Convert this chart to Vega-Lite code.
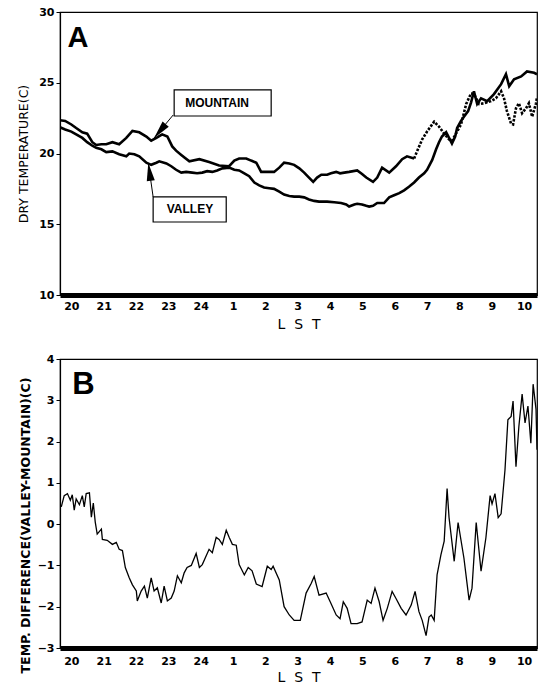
{
  "$schema": "https://vega.github.io/schema/vega-lite/v6.json",
  "padding": {"left": 17, "top": 5, "right": 0, "bottom": 0},
  "background": "white",
  "bounds": "flush",
  "spacing": 64,
  "config": {
    "view": {"stroke": "black", "strokeWidth": 1.2},
    "axis": {
      "grid": false,
      "domainColor": "black",
      "tickColor": "black",
      "labelColor": "black",
      "titleColor": "black",
      "labelFont": "DejaVu Sans",
      "labelFontWeight": "bold",
      "labelFontSize": 11,
      "titleFont": "DejaVu Sans"
    }
  },
  "datasets": {
    "mountain": [
      {"t": 19.65, "v": 22.35}, {"t": 19.81, "v": 22.3}, {"t": 20.0, "v": 22.05}, {"t": 20.15, "v": 21.8},
      {"t": 20.34, "v": 21.5}, {"t": 20.49, "v": 21.4}, {"t": 20.65, "v": 20.8}, {"t": 20.77, "v": 20.6},
      {"t": 20.93, "v": 20.65}, {"t": 21.08, "v": 20.65}, {"t": 21.27, "v": 20.8}, {"t": 21.48, "v": 20.65},
      {"t": 21.7, "v": 21.1}, {"t": 21.89, "v": 21.6}, {"t": 22.1, "v": 21.5}, {"t": 22.32, "v": 21.2},
      {"t": 22.47, "v": 20.9}, {"t": 22.63, "v": 21.1}, {"t": 22.81, "v": 21.35}, {"t": 22.97, "v": 21.2},
      {"t": 23.12, "v": 20.5}, {"t": 23.24, "v": 20.2}, {"t": 23.4, "v": 19.9}, {"t": 23.65, "v": 19.45},
      {"t": 23.96, "v": 19.6}, {"t": 24.26, "v": 19.4}, {"t": 24.57, "v": 19.15}, {"t": 24.88, "v": 19.1},
      {"t": 25.04, "v": 19.5}, {"t": 25.19, "v": 19.65}, {"t": 25.41, "v": 19.65}, {"t": 25.56, "v": 19.5},
      {"t": 25.72, "v": 19.35}, {"t": 25.87, "v": 18.7}, {"t": 26.06, "v": 18.7}, {"t": 26.27, "v": 18.7},
      {"t": 26.43, "v": 19.0}, {"t": 26.58, "v": 19.35}, {"t": 26.74, "v": 19.3}, {"t": 26.89, "v": 19.2},
      {"t": 27.05, "v": 18.95}, {"t": 27.2, "v": 18.65}, {"t": 27.35, "v": 18.3}, {"t": 27.48, "v": 18.0},
      {"t": 27.6, "v": 18.3}, {"t": 27.73, "v": 18.5}, {"t": 27.91, "v": 18.5}, {"t": 28.03, "v": 18.6},
      {"t": 28.19, "v": 18.7}, {"t": 28.31, "v": 18.6}, {"t": 28.44, "v": 18.65}, {"t": 28.59, "v": 18.7},
      {"t": 28.84, "v": 18.8}, {"t": 28.99, "v": 18.55}, {"t": 29.12, "v": 18.3}, {"t": 29.33, "v": 18.0},
      {"t": 29.46, "v": 18.3}, {"t": 29.61, "v": 19.0}, {"t": 29.83, "v": 18.65}, {"t": 30.04, "v": 19.1},
      {"t": 30.23, "v": 19.6}, {"t": 30.38, "v": 19.8}, {"t": 30.6, "v": 19.65}, {"t": 30.69, "v": 20.15},
      {"t": 30.85, "v": 21.0}, {"t": 31.0, "v": 21.55}, {"t": 31.22, "v": 22.25}, {"t": 31.37, "v": 21.9},
      {"t": 31.53, "v": 21.4}, {"t": 31.68, "v": 21.0}, {"t": 31.77, "v": 20.9}, {"t": 31.93, "v": 21.55},
      {"t": 32.05, "v": 22.05}, {"t": 32.21, "v": 23.5}, {"t": 32.36, "v": 24.25}, {"t": 32.45, "v": 24.2},
      {"t": 32.61, "v": 23.5}, {"t": 32.76, "v": 23.55}, {"t": 32.98, "v": 23.7}, {"t": 33.13, "v": 23.9},
      {"t": 33.29, "v": 24.4}, {"t": 33.38, "v": 23.9}, {"t": 33.47, "v": 23.0}, {"t": 33.6, "v": 22.1},
      {"t": 33.66, "v": 22.05}, {"t": 33.75, "v": 23.2}, {"t": 33.84, "v": 23.55}, {"t": 33.94, "v": 22.85},
      {"t": 34.06, "v": 23.2}, {"t": 34.15, "v": 23.55}, {"t": 34.25, "v": 22.6}, {"t": 34.37, "v": 23.55},
      {"t": 34.4, "v": 24.0}
    ],
    "valley": [
      {"t": 19.65, "v": 21.85}, {"t": 19.81, "v": 21.7}, {"t": 20.0, "v": 21.55}, {"t": 20.15, "v": 21.35},
      {"t": 20.34, "v": 21.1}, {"t": 20.49, "v": 20.8}, {"t": 20.65, "v": 20.55}, {"t": 20.77, "v": 20.4},
      {"t": 20.93, "v": 20.3}, {"t": 21.08, "v": 20.1}, {"t": 21.27, "v": 20.15}, {"t": 21.48, "v": 19.95},
      {"t": 21.7, "v": 19.8}, {"t": 21.79, "v": 20.0}, {"t": 21.95, "v": 19.95}, {"t": 22.1, "v": 19.8},
      {"t": 22.32, "v": 19.35}, {"t": 22.47, "v": 19.2}, {"t": 22.63, "v": 19.35}, {"t": 22.72, "v": 19.45},
      {"t": 22.94, "v": 19.3}, {"t": 23.09, "v": 19.1}, {"t": 23.24, "v": 18.85}, {"t": 23.4, "v": 18.65},
      {"t": 23.55, "v": 18.7}, {"t": 23.74, "v": 18.65}, {"t": 23.89, "v": 18.6}, {"t": 24.05, "v": 18.65},
      {"t": 24.2, "v": 18.75}, {"t": 24.36, "v": 18.7}, {"t": 24.51, "v": 18.8}, {"t": 24.67, "v": 18.95},
      {"t": 24.88, "v": 19.0}, {"t": 25.04, "v": 18.85}, {"t": 25.19, "v": 18.8}, {"t": 25.35, "v": 18.6},
      {"t": 25.5, "v": 18.4}, {"t": 25.66, "v": 17.95}, {"t": 25.81, "v": 17.75}, {"t": 25.96, "v": 17.6},
      {"t": 26.12, "v": 17.55}, {"t": 26.27, "v": 17.5}, {"t": 26.43, "v": 17.3}, {"t": 26.58, "v": 17.1},
      {"t": 26.74, "v": 17.0}, {"t": 26.89, "v": 16.95}, {"t": 27.05, "v": 16.95}, {"t": 27.2, "v": 16.9},
      {"t": 27.35, "v": 16.75}, {"t": 27.51, "v": 16.65}, {"t": 27.66, "v": 16.6}, {"t": 27.91, "v": 16.6},
      {"t": 28.13, "v": 16.55}, {"t": 28.34, "v": 16.5}, {"t": 28.5, "v": 16.4}, {"t": 28.59, "v": 16.25},
      {"t": 28.75, "v": 16.4}, {"t": 28.84, "v": 16.45}, {"t": 28.99, "v": 16.4}, {"t": 29.12, "v": 16.3},
      {"t": 29.21, "v": 16.25}, {"t": 29.33, "v": 16.3}, {"t": 29.46, "v": 16.5}, {"t": 29.67, "v": 16.5},
      {"t": 29.83, "v": 16.9}, {"t": 29.98, "v": 17.05}, {"t": 30.14, "v": 17.2}, {"t": 30.29, "v": 17.4},
      {"t": 30.44, "v": 17.65}, {"t": 30.6, "v": 17.95}, {"t": 30.75, "v": 18.3}, {"t": 30.91, "v": 18.6},
      {"t": 31.0, "v": 18.85}, {"t": 31.16, "v": 19.55}, {"t": 31.28, "v": 20.3}, {"t": 31.37, "v": 20.8},
      {"t": 31.46, "v": 21.2}, {"t": 31.59, "v": 21.5}, {"t": 31.68, "v": 21.1}, {"t": 31.77, "v": 20.7},
      {"t": 31.87, "v": 21.2}, {"t": 31.93, "v": 21.8}, {"t": 32.05, "v": 22.3}, {"t": 32.14, "v": 22.6},
      {"t": 32.27, "v": 23.0}, {"t": 32.36, "v": 23.6}, {"t": 32.45, "v": 24.4}, {"t": 32.55, "v": 23.5},
      {"t": 32.67, "v": 23.9}, {"t": 32.86, "v": 23.7}, {"t": 33.07, "v": 24.2}, {"t": 33.29, "v": 24.9},
      {"t": 33.44, "v": 25.6}, {"t": 33.54, "v": 24.75}, {"t": 33.69, "v": 25.25}, {"t": 33.91, "v": 25.45},
      {"t": 34.09, "v": 25.8}, {"t": 34.31, "v": 25.7}, {"t": 34.4, "v": 25.6}
    ],
    "diff": [
      {"t": 19.69, "v": 0.42}, {"t": 19.78, "v": 0.69}, {"t": 19.88, "v": 0.74}, {"t": 19.97, "v": 0.58},
      {"t": 20.03, "v": 0.71}, {"t": 20.09, "v": 0.34}, {"t": 20.15, "v": 0.61}, {"t": 20.25, "v": 0.47},
      {"t": 20.34, "v": 0.69}, {"t": 20.4, "v": 0.42}, {"t": 20.46, "v": 0.74}, {"t": 20.56, "v": 0.76},
      {"t": 20.62, "v": 0.17}, {"t": 20.68, "v": 0.51}, {"t": 20.74, "v": 0.05}, {"t": 20.8, "v": -0.24},
      {"t": 20.93, "v": -0.12}, {"t": 20.96, "v": -0.37}, {"t": 21.11, "v": -0.39}, {"t": 21.27, "v": -0.49},
      {"t": 21.39, "v": -0.44}, {"t": 21.48, "v": -0.61}, {"t": 21.58, "v": -0.64}, {"t": 21.67, "v": -1.05},
      {"t": 21.79, "v": -1.3}, {"t": 21.89, "v": -1.47}, {"t": 22.01, "v": -1.62}, {"t": 22.04, "v": -1.86},
      {"t": 22.16, "v": -1.62}, {"t": 22.26, "v": -1.5}, {"t": 22.35, "v": -1.79}, {"t": 22.47, "v": -1.3},
      {"t": 22.56, "v": -1.62}, {"t": 22.66, "v": -1.54}, {"t": 22.78, "v": -1.91}, {"t": 22.87, "v": -1.5},
      {"t": 22.97, "v": -1.86}, {"t": 23.09, "v": -1.79}, {"t": 23.18, "v": -1.62}, {"t": 23.28, "v": -1.25},
      {"t": 23.4, "v": -1.42}, {"t": 23.49, "v": -1.18}, {"t": 23.58, "v": -1.05}, {"t": 23.71, "v": -1.0},
      {"t": 23.86, "v": -0.71}, {"t": 23.96, "v": -1.05}, {"t": 24.05, "v": -0.98}, {"t": 24.26, "v": -0.61},
      {"t": 24.36, "v": -0.69}, {"t": 24.48, "v": -0.32}, {"t": 24.57, "v": -0.37}, {"t": 24.67, "v": -0.49},
      {"t": 24.79, "v": -0.15}, {"t": 24.88, "v": -0.32}, {"t": 24.98, "v": -0.49}, {"t": 25.1, "v": -0.51},
      {"t": 25.19, "v": -0.98}, {"t": 25.35, "v": -1.23}, {"t": 25.47, "v": -1.05}, {"t": 25.59, "v": -1.13},
      {"t": 25.72, "v": -1.45}, {"t": 25.9, "v": -1.51}, {"t": 26.06, "v": -1.02}, {"t": 26.18, "v": -1.1},
      {"t": 26.24, "v": -1.02}, {"t": 26.43, "v": -1.35}, {"t": 26.58, "v": -2.0}, {"t": 26.74, "v": -2.2},
      {"t": 26.89, "v": -2.33}, {"t": 27.08, "v": -2.33}, {"t": 27.26, "v": -1.67}, {"t": 27.42, "v": -1.43},
      {"t": 27.51, "v": -1.27}, {"t": 27.66, "v": -1.72}, {"t": 27.88, "v": -1.67}, {"t": 28.03, "v": -1.92},
      {"t": 28.19, "v": -2.2}, {"t": 28.31, "v": -2.29}, {"t": 28.41, "v": -1.88}, {"t": 28.53, "v": -2.04},
      {"t": 28.65, "v": -2.41}, {"t": 28.84, "v": -2.41}, {"t": 28.99, "v": -2.37}, {"t": 29.15, "v": -1.84},
      {"t": 29.27, "v": -1.92}, {"t": 29.39, "v": -1.55}, {"t": 29.52, "v": -1.88}, {"t": 29.64, "v": -2.33},
      {"t": 29.77, "v": -2.04}, {"t": 29.92, "v": -1.63}, {"t": 30.04, "v": -1.8}, {"t": 30.2, "v": -2.04},
      {"t": 30.35, "v": -2.2}, {"t": 30.51, "v": -1.96}, {"t": 30.63, "v": -1.63}, {"t": 30.75, "v": -2.12},
      {"t": 30.85, "v": -2.33}, {"t": 30.97, "v": -2.7}, {"t": 31.06, "v": -2.25}, {"t": 31.13, "v": -2.2},
      {"t": 31.22, "v": -2.33}, {"t": 31.31, "v": -1.23}, {"t": 31.43, "v": -0.74}, {"t": 31.53, "v": -0.41},
      {"t": 31.62, "v": 0.86}, {"t": 31.68, "v": 0.16}, {"t": 31.84, "v": -0.9}, {"t": 31.96, "v": 0.04},
      {"t": 32.14, "v": -0.82}, {"t": 32.3, "v": -1.84}, {"t": 32.39, "v": -1.55}, {"t": 32.52, "v": 0.04},
      {"t": 32.67, "v": -1.14}, {"t": 32.82, "v": -0.33}, {"t": 32.95, "v": 0.69}, {"t": 33.01, "v": 0.49},
      {"t": 33.1, "v": 0.74}, {"t": 33.2, "v": 0.16}, {"t": 33.29, "v": 0.25}, {"t": 33.41, "v": 1.31},
      {"t": 33.5, "v": 2.53}, {"t": 33.6, "v": 2.61}, {"t": 33.66, "v": 2.98}, {"t": 33.75, "v": 1.39},
      {"t": 33.84, "v": 2.37}, {"t": 33.94, "v": 3.15}, {"t": 34.03, "v": 2.45}, {"t": 34.12, "v": 2.86},
      {"t": 34.21, "v": 1.96}, {"t": 34.28, "v": 3.39}, {"t": 34.37, "v": 2.78}, {"t": 34.4, "v": 1.8}
    ],
    "boxes": [
      {"label": "MOUNTAIN", "t": 23.18, "t2": 26.18, "v": 24.49, "v2": 22.65},
      {"label": "VALLEY", "t": 22.53, "t2": 24.79, "v": 16.93, "v2": 15.16}
    ],
    "boxLabels": [
      {"label": "MOUNTAIN", "t": 23.52, "v": 23.57},
      {"label": "VALLEY", "t": 22.95, "v": 16.08}
    ],
    "arrows": [
      {"name": "mountain", "t": 22.56, "v": 21.1, "t2": 23.15, "v2": 22.72},
      {"name": "valley", "t": 22.38, "v": 19.33, "t2": 22.53, "v2": 16.93}
    ],
    "letterA": [{"label": "A", "t": 19.88, "v": 27.53}],
    "letterB": [{"label": "B", "t": 20.03, "v": 3.15}],
    "zero": [{"v": 0}]
  },
  "vconcat": [
    {
      "width": 477,
      "height": 283,
      "encoding": {
        "x": {
          "field": "t", "type": "quantitative",
          "scale": {"domain": [19.65, 34.4], "nice": false, "zero": false},
          "axis": {
            "values": [20, 21, 22, 23, 24, 25, 26, 27, 28, 29, 30, 31, 32, 33, 34],
            "labelExpr": "datum.value > 24 ? datum.value - 24 : datum.value",
            "title": "L\u00a0 S\u00a0 T", "titleFontSize": 14, "titleFontWeight": "normal", "titlePadding": 6,
            "ticks": false, "domainWidth": 5, "labelPadding": 5, "labelFlush": false
          }
        },
        "y": {
          "field": "v", "type": "quantitative",
          "scale": {"domain": [10, 30], "nice": false, "zero": false},
          "axis": {
            "values": [10, 15, 20, 25, 30], "tickSize": 4, "labelPadding": 2, "domainWidth": 1.2,
            "title": "DRY TEMPERATURE(C)", "titleFontSize": 12.5, "titleFontWeight": "normal", "titlePadding": 8
          }
        }
      },
      "layer": [
        {"data": {"name": "mountain"}, "transform": [{"filter": "datum.t <= 30.62"}],
         "mark": {"type": "line", "color": "black", "strokeWidth": 2.6, "clip": true}},
        {"data": {"name": "mountain"}, "transform": [{"filter": "datum.t >= 30.6"}],
         "mark": {"type": "line", "color": "black", "strokeWidth": 2.6, "strokeDash": [2.5, 1.5], "clip": true}},
        {"data": {"name": "valley"},
         "mark": {"type": "line", "color": "black", "strokeWidth": 2.6, "clip": true}},
        {"data": {"name": "arrows"},
         "mark": {"type": "rule", "color": "black", "strokeWidth": 1},
         "encoding": {"x2": {"field": "t2"}, "y2": {"field": "v2"}}},
        {"data": {"name": "arrows"}, "transform": [{"filter": "datum.name == 'mountain'"}],
         "mark": {"type": "point", "shape": "M0,0L0.45,2L-0.45,2Z", "size": 324, "angle": 220, "filled": true, "color": "black", "opacity": 1}},
        {"data": {"name": "arrows"}, "transform": [{"filter": "datum.name == 'valley'"}],
         "mark": {"type": "point", "shape": "M0,0L0.45,2L-0.45,2Z", "size": 324, "angle": 352, "filled": true, "color": "black", "opacity": 1}},
        {"data": {"name": "boxes"},
         "mark": {"type": "rect", "fill": "white", "stroke": "black", "strokeWidth": 1.2},
         "encoding": {"x2": {"field": "t2"}, "y2": {"field": "v2"}}},
        {"data": {"name": "boxLabels"},
         "mark": {"type": "text", "font": "Liberation Sans", "fontWeight": "bold", "fontSize": 12, "align": "left", "baseline": "middle", "color": "black"},
         "encoding": {"text": {"field": "label"}}},
        {"data": {"name": "letterA"},
         "mark": {"type": "text", "font": "Liberation Sans", "fontWeight": "bold", "fontSize": 29, "align": "left", "baseline": "alphabetic", "color": "black"},
         "encoding": {"text": {"field": "label"}}}
      ]
    },
    {
      "width": 477,
      "height": 289,
      "encoding": {
        "x": {
          "field": "t", "type": "quantitative",
          "scale": {"domain": [19.65, 34.4], "nice": false, "zero": false},
          "axis": {
            "values": [20, 21, 22, 23, 24, 25, 26, 27, 28, 29, 30, 31, 32, 33, 34],
            "labelExpr": "datum.value > 24 ? datum.value - 24 : datum.value",
            "title": "L\u00a0 S\u00a0 T", "titleFontSize": 14, "titleFontWeight": "normal", "titlePadding": 4,
            "ticks": false, "domainWidth": 5, "labelPadding": 7, "labelFlush": false
          }
        },
        "y": {
          "field": "v", "type": "quantitative",
          "scale": {"domain": [-3, 4], "nice": false, "zero": false},
          "axis": {
            "values": [-3, -2, -1, 0, 1, 2, 3, 4], "tickSize": 4, "labelPadding": 2, "domainWidth": 1.2,
            "title": "TEMP. DIFFERENCE(VALLEY-MOUNTAIN)(C)", "titleFontSize": 12.5, "titleFontWeight": "bold", "titlePadding": 5,
            "titleY": 166
          }
        }
      },
      "layer": [
        {"data": {"name": "zero"}, "mark": {"type": "rule", "color": "black", "strokeWidth": 1.2}},
        {"data": {"name": "diff"},
         "mark": {"type": "line", "color": "black", "strokeWidth": 1.3, "clip": true}},
        {"data": {"name": "letterB"},
         "mark": {"type": "text", "font": "Liberation Sans", "fontWeight": "bold", "fontSize": 31, "align": "left", "baseline": "alphabetic", "color": "black"},
         "encoding": {"text": {"field": "label"}}}
      ]
    }
  ]
}
